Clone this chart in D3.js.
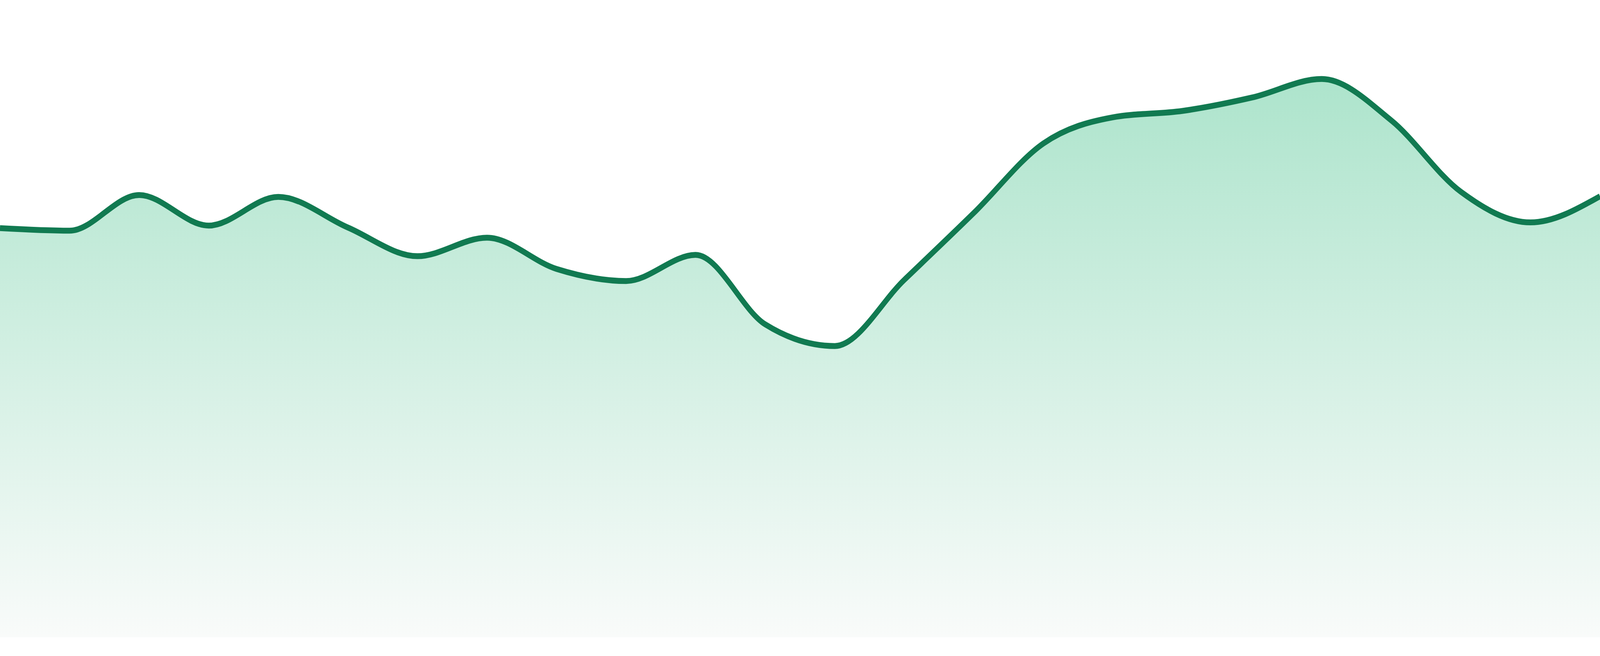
<!DOCTYPE html>
<html>
<head>
<meta charset="utf-8">
<script src="https://cdn.jsdelivr.net/npm/d3@7"></script>
<style>
  html, body { margin: 0; padding: 0; background: #fff; overflow: hidden; }
  svg { display: block; width: 100vw; height: 100vh; }
</style>
</head>
<body>
<svg id="chart" viewBox="0 0 1600 560" preserveAspectRatio="none"></svg>
<script>
// 24 samples, one per hour
const hours = d3.range(24).map(h => String(h).padStart(2, '0') + ':00');
const values = [64.2, 63.8, 69.4, 64.6, 69.1, 64.3, 59.8, 62.7, 57.8, 55.9, 60.0, 49.1,
                45.7, 56.1, 66.6, 77.5, 81.6, 82.6, 84.7, 87.6, 81.1, 69.9, 65.1, 69.2];

const width = 1600;
const bottom = 544;

const svg = d3.select('#chart');

const x = d3.scalePoint()
  .domain(hours)
  .range([0, width]);

const y = d3.scaleLinear()
  .domain([0, 100])
  .range([bottom, 0]);

const grad = svg.append('defs')
  .append('linearGradient')
  .attr('id', 'fillGrad')
  .attr('gradientUnits', 'userSpaceOnUse')
  .attr('x1', 0).attr('x2', 0)
  .attr('y1', y(d3.max(values)))
  .attr('y2', bottom);

grad.append('stop').attr('offset', '0%').attr('stop-color', '#ade4cc');
grad.append('stop').attr('offset', '100%').attr('stop-color', '#f9fbfa');

const area = d3.area()
  .x((d, i) => x(hours[i]))
  .y0(bottom)
  .y1(d => y(d))
  .curve(d3.curveMonotoneX);

const line = d3.line()
  .x((d, i) => x(hours[i]))
  .y(d => y(d))
  .curve(d3.curveMonotoneX);

svg.append('path')
  .datum(values)
  .attr('fill', 'url(#fillGrad)')
  .attr('d', area);

svg.append('path')
  .datum(values)
  .attr('fill', 'none')
  .attr('stroke', '#117a51')
  .attr('stroke-width', 5)
  .attr('d', line);
</script>
</body>
</html>
